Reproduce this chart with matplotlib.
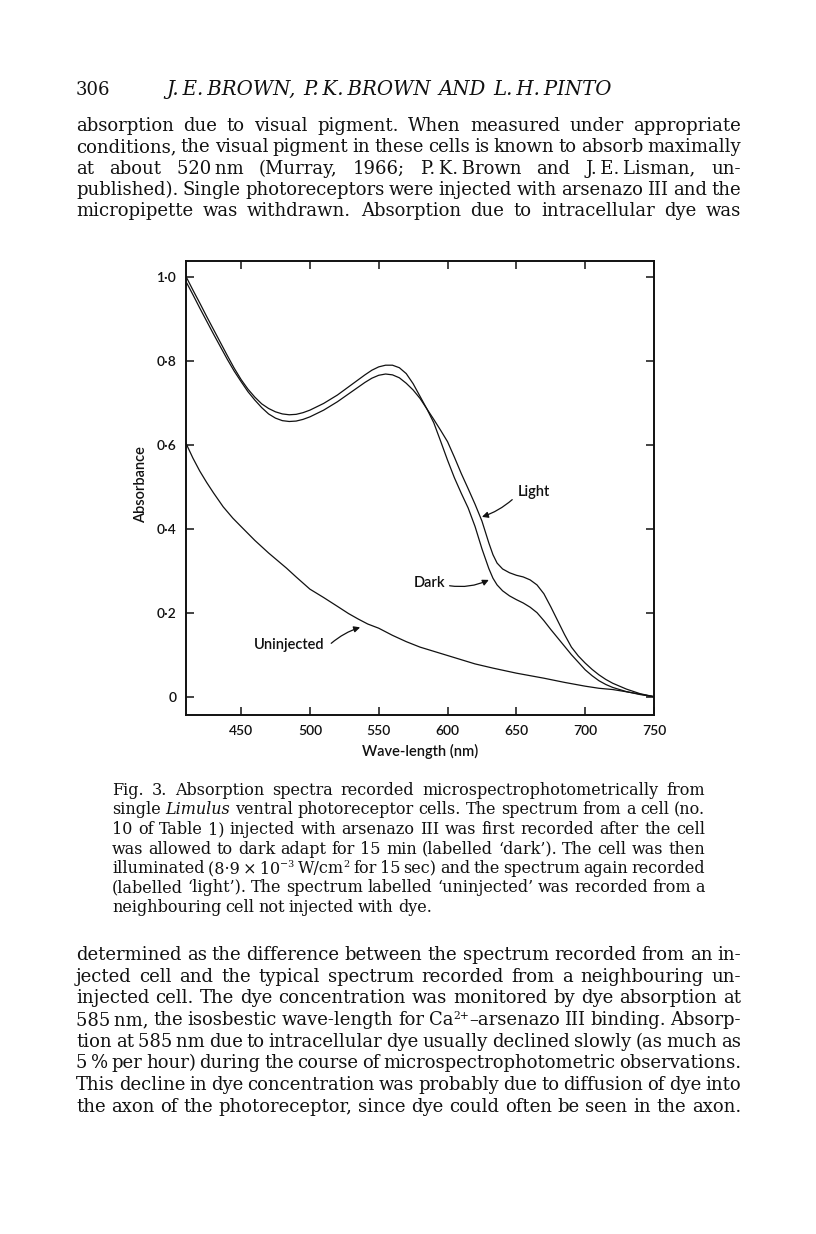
import matplotlib
matplotlib.use('Agg')
import matplotlib.pyplot as plt
import matplotlib.transforms as mtransforms
import numpy as np

#%% Data (wave-length in nm, absorbance)

wavelength = [410, 415, 420, 425, 430, 435, 440, 445, 450, 455, 460, 465, 470, 475, 480, 485,
              490, 495, 500, 510, 520, 530, 540, 545, 550, 555, 560, 565, 570, 575, 580, 585,
              590, 595, 600, 605, 610, 615, 620, 625, 630, 633, 636, 640, 645, 650, 655, 660,
              665, 670, 675, 680, 685, 690, 695, 700, 705, 710, 715, 720, 730, 740, 750]
dark = [1.000, 0.968, 0.937, 0.905, 0.874, 0.843, 0.812, 0.782, 0.755, 0.732, 0.713, 0.697,
        0.686, 0.678, 0.673, 0.671, 0.672, 0.676, 0.682, 0.698, 0.718, 0.742, 0.766, 0.777,
        0.785, 0.789, 0.789, 0.783, 0.769, 0.745, 0.715, 0.685, 0.652, 0.608, 0.563, 0.521,
        0.484, 0.449, 0.405, 0.352, 0.305, 0.282, 0.266, 0.252, 0.240, 0.231, 0.223, 0.213,
        0.200, 0.181, 0.160, 0.140, 0.120, 0.100, 0.082, 0.064, 0.050, 0.038, 0.029, 0.022,
        0.012, 0.005, 0.000]
light = [0.988, 0.957, 0.925, 0.894, 0.863, 0.833, 0.803, 0.775, 0.750, 0.726, 0.706, 0.688,
         0.673, 0.663, 0.657, 0.655, 0.656, 0.660, 0.666, 0.682, 0.702, 0.725, 0.748, 0.758,
         0.765, 0.768, 0.766, 0.759, 0.746, 0.730, 0.710, 0.685, 0.660, 0.634, 0.607, 0.570,
         0.531, 0.495, 0.458, 0.418, 0.366, 0.338, 0.318, 0.304, 0.295, 0.289, 0.285, 0.278,
         0.266, 0.245, 0.214, 0.181, 0.148, 0.118, 0.097, 0.080, 0.065, 0.052, 0.041, 0.032,
         0.018, 0.007, 0.000]

wl_uninj = [410, 415, 420, 425, 430, 437, 444, 450, 460, 470, 483, 490, 500, 510, 520, 528,
            535, 542, 550, 560, 570, 580, 595, 610, 620, 633, 650, 660, 670, 685, 700, 710,
            720, 735, 750]
uninjected = [0.603, 0.568, 0.537, 0.510, 0.485, 0.452, 0.425, 0.405, 0.372, 0.342, 0.306,
              0.285, 0.256, 0.236, 0.215, 0.198, 0.185, 0.173, 0.163, 0.146, 0.131, 0.118,
              0.103, 0.088, 0.078, 0.068, 0.056, 0.050, 0.044, 0.034, 0.025, 0.020, 0.017,
              0.009, 0.000]

x_ticks = [450, 500, 550, 600, 650, 700, 750]
y_ticks = [0, 0.2, 0.4, 0.6, 0.8, 1.0]
y_ticklabels = ['0', '0\u00b72', '0\u00b74', '0\u00b76', '0\u00b78', '1\u00b70']

# page text (_ _ = italic, ^ ^ = superscript)
header_num = '306'
header_title = 'J.\u2009E.\u2009BROWN, P.\u2009K.\u2009BROWN AND L.\u2009H.\u2009PINTO'
top_lines = [
    'absorption due to visual pigment. When measured under appropriate',
    'conditions, the visual pigment in these cells is known to absorb maximally',
    'at about 520\u2009nm (Murray, 1966; P.\u2009K.\u2009Brown and J.\u2009E.\u2009Lisman, un-',
    'published). Single photoreceptors were injected with arsenazo III and the',
    'micropipette was withdrawn. Absorption due to intracellular dye was',
]
caption_lines = [
    'Fig. 3. Absorption spectra recorded microspectrophotometrically from',
    'single _Limulus_ ventral photoreceptor cells. The spectrum from a cell (no.',
    '10 of Table 1) injected with arsenazo III was first recorded after the cell',
    'was allowed to dark adapt for 15 min (labelled \u2018dark\u2019). The cell was then',
    'illuminated (8\u00b79\u2009\u00d7\u200910^\u22123^ W/cm^2^ for 15 sec) and the spectrum again recorded',
    '(labelled \u2018light\u2019). The spectrum labelled \u2018uninjected\u2019 was recorded from a',
    'neighbouring cell not injected with dye.',
]
bottom_lines = [
    'determined as the difference between the spectrum recorded from an in-',
    'jected cell and the typical spectrum recorded from a neighbouring un-',
    'injected cell. The dye concentration was monitored by dye absorption at',
    '585\u2009nm, the isosbestic wave-length for Ca^2+^\u2013arsenazo III binding. Absorp-',
    'tion at 585\u2009nm due to intracellular dye usually declined slowly (as much as',
    '5\u2009% per hour) during the course of microspectrophotometric observations.',
    'This decline in dye concentration was probably due to diffusion of dye into',
    'the axon of the photoreceptor, since dye could often be seen in the axon.',
]

#%% Figure

W, H, DPI = 816, 1234, 100
INK = '#111111'
SERIF = 'DejaVu Serif'
SANS = 'Lato'

fig = plt.figure(figsize=(W / DPI, H / DPI), dpi=DPI)
fig.patch.set_facecolor('white')
renderer = fig.canvas.get_renderer()
ident = mtransforms.IdentityTransform()


def parse(word):
    segs, cur, sty = [], '', 'n'
    for ch in word:
        if ch in '_^':
            if cur:
                segs.append((cur, sty))
            cur = ''
            new = 'it' if ch == '_' else 'sup'
            sty = 'n' if sty == new else new
        else:
            cur += ch
    if cur:
        segs.append((cur, sty))
    return segs


def make_words(line, size, style):
    words = []
    for w in line.split(' '):
        arts, width = [], 0
        for s, sty in parse(w):
            fs = size * 0.6 if sty == 'sup' else size
            st = 'italic' if (sty == 'it' or style == 'italic') else 'normal'
            t = fig.text(0, 0, s, fontsize=fs, fontstyle=st, family=SERIF, color=INK,
                         ha='left', va='baseline', transform=ident)
            arts.append((t, width, sty))
            width += t.get_window_extent(renderer).width
        words.append((arts, width))
    return words


def natural_width(line, size):
    words = make_words(line, size, 'normal')
    total = sum(w for _, w in words) + (len(words) - 1) * size * 0.25 * DPI / 72
    for arts, _ in words:
        for t, _, _ in arts:
            t.remove()
    return total


def put_line(line, x0, x1, yb, size, justify=True, style='normal'):
    words = make_words(line, size, style)
    total = sum(w for _, w in words)
    if justify and len(words) > 1:
        gap = (x1 - x0 - total) / (len(words) - 1)
    else:
        gap = size * 0.25 * DPI / 72
    x = x0
    for arts, width in words:
        for t, off, sty in arts:
            dy = size * 0.36 * DPI / 72 if sty == 'sup' else 0
            t.set_position((x + off, H - yb + dy))
        x += width + gap


# font sizes fitted to the measure of the page
body_size = 12 * np.median([665 / natural_width(l, 12) for l in top_lines + bottom_lines]) * 0.985
cap_size = 10 * np.median([593 / natural_width(l, 10) for l in caption_lines[:-1]]) * 0.985

put_line(header_num, 76, 76, 95, body_size, justify=False)
put_line(header_title, 166, 612, 95, body_size * 1.1, style='italic')
for i, ln in enumerate(top_lines):
    put_line(ln, 76, 741, 131 + i * 21.3, body_size)
for i, ln in enumerate(caption_lines):
    put_line(ln, 112, 705, 795 + i * 19.5, cap_size, justify=(i < len(caption_lines) - 1))
for i, ln in enumerate(bottom_lines):
    put_line(ln, 76, 741, 960 + i * 21.7, body_size)

#%% Chart

ax = fig.add_axes([186 / W, 1 - 715 / H, (654 - 186) / W, (715 - 261) / H])
ax.plot(wavelength, dark, color=INK, lw=0.9)
ax.plot(wavelength, light, color=INK, lw=0.9)
ax.plot(wl_uninj, uninjected, color=INK, lw=0.9)

ax.set_xlim(410, 750)
ax.set_ylim(-0.0436, 1.037)
ax.set_xticks(x_ticks)
ax.set_xticklabels([str(v) for v in x_ticks])
ax.set_yticks(y_ticks)
ax.set_yticklabels(y_ticklabels)
ax.tick_params(direction='in', length=6, width=1.1, color=INK, top=True, right=True,
               labelsize=10, labelcolor=INK)
ax.tick_params(axis='y', pad=7)
ax.tick_params(axis='x', pad=7)
for lab in ax.get_xticklabels() + ax.get_yticklabels():
    lab.set_family(SANS)
    lab.set_fontweight('semibold')
for sp in ax.spines.values():
    sp.set_linewidth(1.4)
    sp.set_color(INK)

ax.set_ylabel('Absorbance', family=SANS, fontsize=10.5, fontweight='semibold', color=INK)
ax.yaxis.set_label_coords(-0.081, 0.507)
ax.set_xlabel('Wave-length (nm)', family=SANS, fontsize=10.5, fontweight='semibold', color=INK)
ax.xaxis.set_label_coords(0.5, -0.064)

# curve labels with arrows
lab_kw = dict(family=SANS, fontsize=10.5, fontweight='semibold', color=INK, ha='center', va='center')
arr_kw = dict(arrowstyle='-|>', color=INK, lw=0.9, mutation_scale=9, shrinkA=0, shrinkB=0)
ax.text(662.5, 0.487, 'Light', **lab_kw)
ax.annotate('', xy=(625, 0.428), xytext=(647, 0.469),
            arrowprops=dict(connectionstyle='arc3,rad=-0.1', **arr_kw))
ax.text(587, 0.270, 'Dark', **lab_kw)
ax.annotate('', xy=(630, 0.278), xytext=(601.5, 0.264),
            arrowprops=dict(connectionstyle='arc3,rad=0.15', **arr_kw))
ax.text(485, 0.122, 'Uninjected', **lab_kw)
ax.annotate('', xy=(536.5, 0.165), xytext=(515.5, 0.127),
            arrowprops=dict(connectionstyle='arc3,rad=-0.1', **arr_kw))

fig.savefig('out.png', dpi=DPI, facecolor='white')
